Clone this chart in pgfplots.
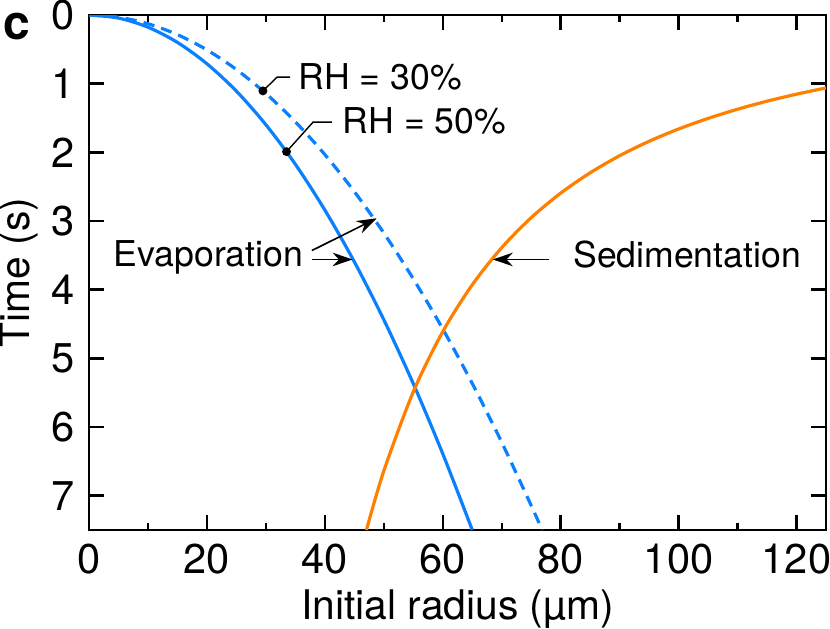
\documentclass[border=0pt]{standalone}
\usepackage{fontspec}
\setmainfont{TeX Gyre Heros}
\usepackage{pgfplots}
\pgfplotsset{compat=1.18}
\usetikzlibrary{calc,arrows.meta}
\definecolor{evapblue}{RGB}{10,128,255}
\definecolor{sedorange}{RGB}{255,128,0}

\begin{document}
\begin{tikzpicture}
\begin{axis}[
  scale only axis,
  width=184.25pt, height=128.75pt,
  xmin=0, xmax=125, ymin=0, ymax=7.5,
  y dir=reverse,
  xtick={0,20,...,120}, minor xtick={10,30,...,110},
  ytick={0,...,7},
  tick align=inside,
  major tick length=3.75pt, minor tick length=1.75pt,
  axis line style={line width=0.6pt},
  every tick/.style={black, line width=0.6pt},
  tick label style={font=\fontsize{10.4}{12}\selectfont},
  /pgf/number format/assume math mode=true,
  clip=true,
]
\addplot[evapblue, line width=0.8pt, smooth] coordinates {
  (0,0) (5,0.0444) (10,0.1775) (15,0.3994) (20,0.710) (25,1.109) (30,1.598)
  (35,2.174) (40,2.840) (45,3.594) (50,4.438) (55,5.369) (60,6.390) (65,7.499)
};
\addplot[evapblue, line width=0.8pt, smooth, dash pattern=on 2.8pt off 1.8pt] coordinates {
  (0,0) (5,0.0318) (10,0.127) (15,0.286) (20,0.508) (25,0.794) (30,1.143)
  (35,1.556) (40,2.032) (45,2.572) (50,3.175) (55,3.842) (60,4.572)
  (65,5.366) (70,6.223) (75,7.144) (76.85,7.500)
};
\addplot[sedorange, line width=0.8pt, smooth] coordinates {
  (47.05,7.50) (50,6.64) (55,5.488) (60,4.611) (65,3.929) (70,3.388) (75,2.951)
  (80,2.594) (85,2.298) (90,2.049) (95,1.839) (100,1.660) (105,1.506)
  (110,1.372) (115,1.255) (120,1.153) (125,1.062)
};
\addplot[only marks, mark=*, mark size=0.9pt, black] coordinates {
  (29.5,1.105) (33.5,1.99)
};
\draw[line width=0.35pt] (axis cs:29.5,1.105) -- (axis cs:31.9,0.905) -- (axis cs:34.1,0.905);
\draw[line width=0.35pt] (axis cs:33.5,1.99) -- (axis cs:38.0,1.56) -- (axis cs:41.2,1.56);
\node[anchor=base west, inner sep=0pt, font=\fontsize{8.9}{10}\selectfont] at (axis cs:35.4,1.08) {RH = 30\%};
\node[anchor=base west, inner sep=0pt, font=\fontsize{8.9}{10}\selectfont] at (axis cs:42.9,1.72) {RH = 50\%};
\draw[line width=0.4pt, -{Stealth[length=5pt,width=3.4pt]}] (axis cs:37.8,3.43) -- (axis cs:48.8,2.96);
\draw[line width=0.4pt, -{Stealth[length=5pt,width=3.4pt]}] (axis cs:37.8,3.56) -- (axis cs:44.7,3.56);
\draw[line width=0.4pt, -{Stealth[length=5pt,width=3.4pt]}] (axis cs:78.1,3.56) -- (axis cs:68.5,3.56);
\node[anchor=base west, inner sep=0pt, font=\fontsize{8.9}{10}\selectfont] at (axis cs:4.1,3.665) {Evaporation};
\node[anchor=base west, inner sep=0pt, font=\fontsize{8.9}{10}\selectfont] at (axis cs:82.0,3.68) {Sedimentation};
\coordinate (BL) at (axis cs:0,7.5);
\coordinate (TR) at (axis cs:125,0);
\end{axis}
\node[anchor=west, inner sep=0pt, font=\fontsize{12}{14}\bfseries\selectfont] at ($(BL|-TR)+(-21.5pt,-3pt)$) {c};
\node[anchor=base, inner sep=0pt, font=\fontsize{10.2}{12}\selectfont] at ($(BL)!0.5!(BL-|TR)+(0,-22.25pt)$) {Initial radius (µm)};
\node[rotate=90, anchor=center, inner sep=0pt, font=\fontsize{10.2}{12}\selectfont] at ($(BL)!0.5!(BL|-TR)+(-17.5pt,0)$) {Time (s)};
\pgfresetboundingbox
\useasboundingbox ($(BL)+(-22.25pt,-24.5pt)$) rectangle ($(TR)+(1pt,3.75pt)$);
\end{tikzpicture}
\end{document}
